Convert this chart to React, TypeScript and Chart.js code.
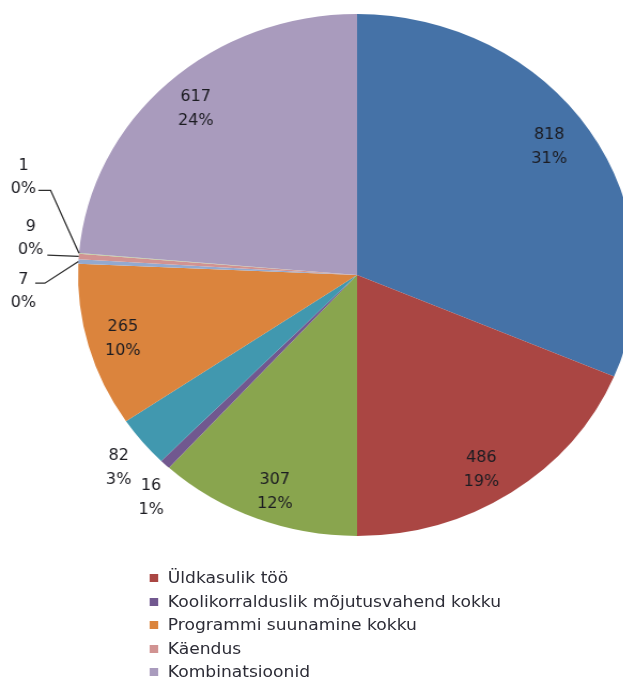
import React, { useEffect, useRef } from "react";
import { Chart, registerables } from "chart.js";

Chart.register(...registerables);

// Slice values, clockwise from 12 o'clock
const values = [818, 486, 307, 16, 82, 265, 7, 9, 1, 617];
// Legend names visible in the picture (the other column of the legend is cut off)
const legendNames = [
  "",
  "Üldkasulik töö",
  "",
  "Koolikorralduslik mõjutusvahend kokku",
  "",
  "Programmi suunamine kokku",
  "",
  "Käendus",
  "",
  "Kombinatsioonid",
];
const colors = [
  "#4572A7",
  "#AA4643",
  "#89A54E",
  "#71588F",
  "#4198AF",
  "#DB843D",
  "#93A9CF",
  "#D19392",
  "#B9CD96",
  "#A99BBD",
];

const STRETCH = 1.069; // the reference pie is slightly wider than tall
const LABEL_FONT = "15px 'DejaVu Sans'";
const TEXT_COLOR = "#1c1c22";

type Leader = {
  dx: number;
  dyValue: number;
  dyPct: number;
  path: [number, number][];
};

// label placement for the tiny slices (relative to the slice's edge point)
const leaderLabels: Record<number, Leader> = {
  6: { dx: -51.5, dyValue: 19, dyPct: 42, path: [[-40.4, 21.7], [-31.4, 21.7]] },
  7: { dx: -45, dyValue: -29, dyPct: -6, path: [[-29.4, -1.3]] },
  8: { dx: -52, dyValue: -87, dyPct: -64, path: [[-38, -63], [-26.6, -63]] },
};
// small angular nudges (degrees) for outside labels that would collide
const angleNudge: Record<number, number> = { 3: -2.7 };
// small label shifts (px) to follow the reference's label placement
const labelShift: Record<number, [number, number]> = {
  0: [-9, -3],
  1: [-9, 7],
  2: [5, 7],
  4: [4, 5],
  5: [-2, 3],
  9: [2, 0],
};

const total = values.reduce((a, b) => a + b, 0);

const sliceLabels = {
  id: "sliceLabels",
  afterDatasetsDraw(chart: any) {
    const ctx: CanvasRenderingContext2D = chart.ctx;
    const meta = chart.getDatasetMeta(0);
    ctx.save();
    ctx.font = LABEL_FONT;
    ctx.fillStyle = TEXT_COLOR;
    ctx.textAlign = "center";
    ctx.textBaseline = "middle";
    ctx.strokeStyle = "#2e2e2e";
    ctx.lineWidth = 1.3;
    meta.data.forEach((arc: any, i: number) => {
      const p = arc.getProps(["x", "y", "startAngle", "endAngle", "outerRadius"], true);
      let mid = (p.startAngle + p.endAngle) / 2;
      const v = values[i];
      const frac = v / total;
      const pct = Math.round(frac * 100) + "%";
      const lead = leaderLabels[i];
      if (lead) {
        const ex = p.x + Math.cos(mid) * p.outerRadius;
        const ey = p.y + Math.sin(mid) * p.outerRadius;
        ctx.fillText(String(v), ex + lead.dx, ey + lead.dyValue);
        ctx.fillText(pct, ex + lead.dx, ey + lead.dyPct);
        ctx.beginPath();
        lead.path.forEach(([dx, dy], k) => {
          if (k === 0) ctx.moveTo(ex + dx, ey + dy);
          else ctx.lineTo(ex + dx, ey + dy);
        });
        ctx.lineTo(ex, ey);
        ctx.stroke();
        return;
      }
      let k = 0.865;
      if (frac < 0.05) {
        k = 1.13;
        mid += ((angleNudge[i] || 0) * Math.PI) / 180;
      }
      const [sx, sy] = labelShift[i] || [0, 0];
      const px = p.x + Math.cos(mid) * p.outerRadius * k + sx / STRETCH;
      const py = p.y + Math.sin(mid) * p.outerRadius * k + sy;
      ctx.fillText(String(v), px, py - 12);
      ctx.fillText(pct, px, py + 12);
    });
    ctx.restore();
  },
};

export default function App() {
  const ref = useRef<HTMLCanvasElement | null>(null);

  useEffect(() => {
    if (!ref.current) return;
    const chart = new Chart(ref.current, {
      type: "pie",
      data: {
        labels: legendNames,
        datasets: [
          {
            data: values,
            backgroundColor: colors,
            borderWidth: 0,
          },
        ],
      },
      options: {
        responsive: false,
        animation: false,
        layout: { padding: { top: 14, bottom: 24, left: 73, right: 15 } },
        plugins: {
          legend: { display: false },
          tooltip: { enabled: false },
        },
      },
      plugins: [sliceLabels],
    });
    return () => chart.destroy();
  }, []);

  const legendItems = legendNames
    .map((name, i) => ({ name, color: colors[i] }))
    .filter((d) => d.name !== "");

  return (
    <div
      style={{
        position: "absolute",
        left: 0,
        top: 0,
        width: 623,
        height: 682,
        overflow: "hidden",
        background: "#fff",
      }}
    >
      <div
        style={{
          position: "absolute",
          left: 0,
          top: 0,
          width: 623 / STRETCH,
          height: 682,
          transform: `scaleX(${STRETCH})`,
          transformOrigin: "0 0",
        }}
      >
        <canvas
          ref={ref}
          width={610}
          height={560}
          style={{ position: "absolute", left: 0, top: 0, width: 610, height: 560 }}
        />
        {legendItems.map((d, i) => (
          <div
            key={d.name}
            style={{
              position: "absolute",
              left: 140,
              top: 578 + i * 23.5 - 10,
              height: 20,
              lineHeight: "20px",
              display: "flex",
              alignItems: "center",
              whiteSpace: "nowrap",
              fontFamily: "'DejaVu Sans', sans-serif",
              fontSize: 16,
              color: "#2c2c36",
            }}
          >
            <span
              style={{
                display: "inline-block",
                width: 7.5,
                height: 8,
                background: d.color,
                marginRight: 9.5,
              }}
            />
            {d.name}
          </div>
        ))}
      </div>
    </div>
  );
}
